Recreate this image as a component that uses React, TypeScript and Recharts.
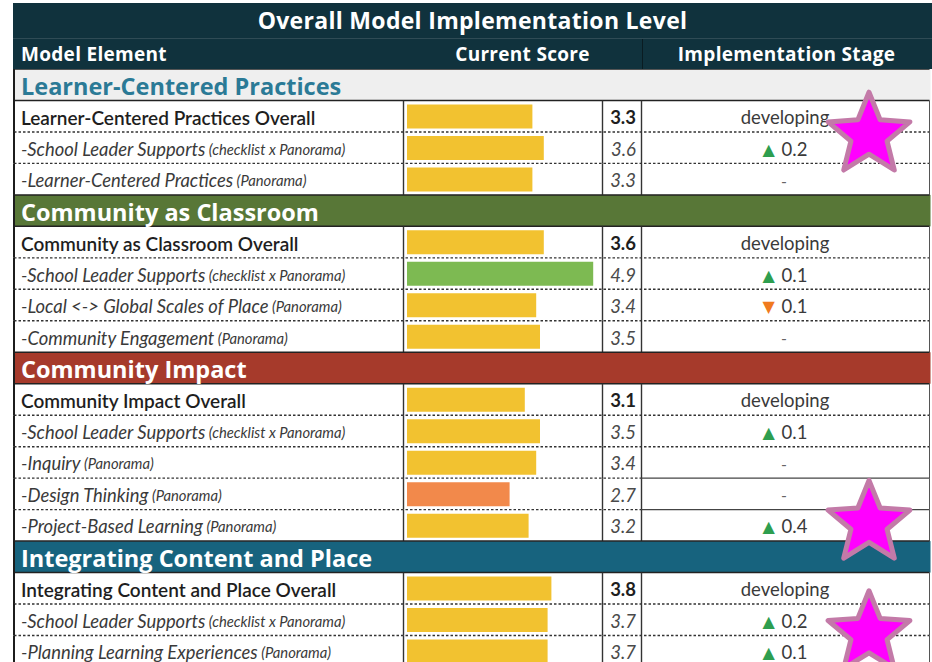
import React from 'react';
import { BarChart, Bar, Cell, XAxis, YAxis } from 'recharts';

// ---- data ----
const sectionNames = [
  'Learner-Centered Practices',
  'Community as Classroom',
  'Community Impact',
  'Integrating Content and Place',
];

const elementNames = [
  'Learner-Centered Practices Overall',
  '-School Leader Supports',
  '-Learner-Centered Practices',
  'Community as Classroom Overall',
  '-School Leader Supports',
  '-Local <-> Global Scales of Place',
  '-Community Engagement',
  'Community Impact Overall',
  '-School Leader Supports',
  '-Inquiry',
  '-Design Thinking',
  '-Project-Based Learning',
  'Integrating Content and Place Overall',
  '-School Leader Supports',
  '-Planning Learning Experiences',
];

const elementSources = [
  '', 'checklist x Panorama', 'Panorama',
  '', 'checklist x Panorama', 'Panorama', 'Panorama',
  '', 'checklist x Panorama', 'Panorama', 'Panorama', 'Panorama',
  '', 'checklist x Panorama', 'Panorama',
];

const elementSection = [0, 0, 0, 1, 1, 1, 1, 2, 2, 2, 2, 2, 3, 3, 3];

const currentScores = [3.3, 3.6, 3.3, 3.6, 4.9, 3.4, 3.5, 3.1, 3.5, 3.4, 2.7, 3.2, 3.8, 3.7, 3.7];

const implementationStages: (string | null)[] = [
  'developing', null, null,
  'developing', null, null, null,
  'developing', null, null, null, null,
  'developing', null, null,
];

const scoreChanges: (number | null)[] = [
  null, 0.2, null,
  null, 0.1, -0.1, null,
  null, 0.1, null, null, 0.4,
  null, 0.2, 0.1,
];

// rows whose top border in the stage column is a solid rule
const solidStageTop = [
  'Community Impact|-Design Thinking',
  'Community Impact|-Project-Based Learning',
];

// highlighted rows (magenta stars), as table row index
const starredRows = [1, 14, 17];

// ---- styling ----
const SECTION_STYLE = [
  { bg: '#efefef', fg: '#2b7a96' },
  { bg: '#587737', fg: '#ffffff' },
  { bg: '#a63a2b', fg: '#ffffff' },
  { bg: '#17637e', fg: '#ffffff' },
];
const HEADER_BG = '#10323d';
const BAR_YELLOW = '#f2c230';
const BAR_GREEN = '#7dba52';
const BAR_ORANGE = '#f2894b';
const STAR_OFFSETS: Record<number, number> = { 1: 19, 14: -2, 17: 14 };

const W = 932;
const H = 662;
const TABLE_TOP = 69;
const CHART_H = 598;
const COL = {
  left: 14,
  label: 21,
  bar: 403.5,
  score: 602.5,
  stage: 641.5,
  right: 929.5,
  scoreText: 636,
  stageMid: 786,
  starX: 869,
};
const HEAD_FONT = '"Open Sans", "DejaVu Sans", sans-serif';
const BODY_FONT = 'Lato, "Noto Sans", sans-serif';

interface TableRow {
  id: string;
  kind: 'section' | 'element';
  section: number;
  name: string;
  source: string;
  score: number | null;
  stage: string | null;
  change: number | null;
}

const tableRows: TableRow[] = [];
sectionNames.forEach((s, si) => {
  tableRows.push({ id: `s${si}`, kind: 'section', section: si, name: s, source: '', score: null, stage: null, change: null });
  elementNames.forEach((n, i) => {
    if (elementSection[i] !== si) return;
    tableRows.push({
      id: `e${i}`,
      kind: 'element',
      section: si,
      name: n,
      source: elementSources[i],
      score: currentScores[i],
      stage: implementationStages[i],
      change: scoreChanges[i],
    });
  });
});

const BAND = CHART_H / tableRows.length;

const barColor = (v: number) => (v >= 4.5 ? BAR_GREEN : v < 3 ? BAR_ORANGE : BAR_YELLOW);

const starPoints = (cx: number, cy: number, R: number, r: number) => {
  const pts: string[] = [];
  for (let k = 0; k < 10; k++) {
    const a = -Math.PI / 2 + (k * Math.PI) / 5;
    const rad = k % 2 === 0 ? R : r;
    pts.push(`${cx + rad * Math.cos(a)},${cy + rad * Math.sin(a)}`);
  }
  return pts.join(' ');
};

const RowTick = (props: any) => {
  const { y, payload } = props;
  const idx = tableRows.findIndex((r) => r.id === payload.value);
  const row = tableRows[idx];
  if (!row) return null;
  const top = y - BAND / 2;
  const bottom = y + BAND / 2;
  const isLast = idx === tableRows.length - 1;

  // stars are drawn with the last row so they sit on top of every rule
  const stars = isLast
    ? starredRows.map((ri) => (
        <polygon
          key={`star-${ri}`}
          points={starPoints(COL.starX, y + (ri - idx) * BAND + STAR_OFFSETS[ri], 43, 19)}
          fill="#ff00ff"
          stroke="#c37aa8"
          strokeWidth={5}
          strokeLinejoin="round"
        />
      ))
    : null;

  if (row.kind === 'section') {
    const st = SECTION_STYLE[row.section];
    return (
      <g>
        <rect x={COL.left - 1} y={top} width={COL.right - COL.left + 2} height={BAND} fill={st.bg} />
        <line x1={COL.left - 1} x2={COL.right} y1={top} y2={top} stroke="#222" strokeWidth={1.5} />
        <line x1={COL.left - 1} x2={COL.right} y1={bottom} y2={bottom} stroke="#222" strokeWidth={1.5} />
        <line x1={COL.left} x2={COL.left} y1={top} y2={bottom} stroke="#1c1c1c" strokeWidth={2} />
        <text
          x={COL.label}
          y={y + 1}
          dominantBaseline="central"
          fontFamily={HEAD_FONT}
          fontWeight={700}
          fontSize={23.5}
          fill={st.fg}
        >
          {row.name}
        </text>
        {stars}
      </g>
    );
  }

  const overall = row.stage != null;
  const next = tableRows[idx + 1];
  const nextIsElement = next && next.kind === 'element';
  const nextSolidStage = next && solidStageTop.includes(`${sectionNames[next.section]}|${next.name}`);

  let stageNode: React.ReactNode;
  if (row.stage) {
    stageNode = (
      <text x={COL.stageMid - 1} y={y + 1} textAnchor="middle" dominantBaseline="central" fontFamily={BODY_FONT} fontSize={18.5} fill="#3a3a3a">
        {row.stage}
      </text>
    );
  } else if (row.change != null) {
    const up = row.change > 0;
    stageNode = (
      <text x={COL.stageMid - 1} y={y + 1} textAnchor="middle" dominantBaseline="central" fontFamily={BODY_FONT} fontSize={18.5} fill="#3a3a3a">
        <tspan fontFamily='"DejaVu Sans", sans-serif' fontSize={16} fill={up ? '#2e9e4f' : '#f07a1e'}>
          {up ? '▲' : '▼'}
        </tspan>
        <tspan dx={2}> {Math.abs(row.change).toFixed(1)}</tspan>
      </text>
    );
  } else {
    stageNode = (
      <text x={COL.stageMid - 2} y={y + 1} textAnchor="middle" dominantBaseline="central" fontFamily={BODY_FONT} fontSize={16} fill="#666">
        -
      </text>
    );
  }

  return (
    <g>
      {/* column rules */}
      <line x1={COL.left} x2={COL.left} y1={top} y2={bottom} stroke="#1c1c1c" strokeWidth={2} />
      <line x1={COL.bar} x2={COL.bar} y1={top} y2={bottom} stroke="#333" strokeWidth={1.4} />
      <line x1={COL.score} x2={COL.score} y1={top} y2={bottom} stroke="#333" strokeWidth={1.4} />
      <line x1={COL.stage} x2={COL.stage} y1={top} y2={bottom} stroke="#333" strokeWidth={1.4} />
      <line x1={COL.right} x2={COL.right} y1={top} y2={bottom} stroke="#555" strokeWidth={1} />

      {/* row separator */}
      {nextIsElement && (
        <>
          <line
            x1={COL.left}
            x2={nextSolidStage ? COL.stage : COL.right}
            y1={bottom}
            y2={bottom}
            stroke="#333"
            strokeWidth={1.4}
            strokeDasharray="2.5 2"
          />
          {nextSolidStage && (
            <line x1={COL.stage} x2={COL.right} y1={bottom} y2={bottom} stroke="#444" strokeWidth={1.2} />
          )}
        </>
      )}

      {/* model element */}
      {overall ? (
        <text x={COL.label} y={y + 1} dominantBaseline="central" fontFamily={BODY_FONT} fontWeight={600} fontSize={19} fill="#1e1e1e">
          {row.name}
        </text>
      ) : (
        <text x={COL.label} y={y + 1} dominantBaseline="central" fontFamily={BODY_FONT} fontStyle="italic" fontSize={18.4} fill="#3a3a3a">
          {row.name}
          {row.source && <tspan fontSize={14.8}> ({row.source})</tspan>}
        </text>
      )}

      {/* current score */}
      <text
        x={COL.scoreText}
        y={y + 1}
        textAnchor="end"
        dominantBaseline="central"
        fontFamily={BODY_FONT}
        fontSize={18.5}
        fontWeight={overall ? 700 : 400}
        fontStyle={overall ? 'normal' : 'italic'}
        fill={overall ? '#1e1e1e' : '#4a4a4a'}
      >
        {row.score != null ? row.score.toFixed(1) : ''}
      </text>

      {stageNode}
      {stars}
    </g>
  );
};

export default function App() {
  return (
    <div
      style={{
        position: 'absolute',
        left: 0,
        top: 0,
        width: W,
        height: H,
        overflow: 'hidden',
        background: '#fff',
      }}
    >
      {/* title */}
      <div
        style={{
          position: 'absolute',
          left: COL.left - 1,
          top: 3,
          width: W - COL.left + 1,
          height: 35,
          background: HEADER_BG,
          color: '#fff',
          fontFamily: HEAD_FONT,
          fontWeight: 700,
          fontSize: 23,
          letterSpacing: 0.3,
          lineHeight: '35px',
          textAlign: 'center',
        }}
      >
        Overall Model Implementation Level
      </div>
      {/* column headers */}
      <div
        style={{
          position: 'absolute',
          left: COL.left - 1,
          top: 38,
          width: W - COL.left + 1,
          height: TABLE_TOP - 38,
          background: HEADER_BG,
          borderTop: '1px solid #2f4b55',
          boxSizing: 'border-box',
          color: '#fff',
          fontFamily: HEAD_FONT,
          fontWeight: 700,
          fontSize: 19,
          letterSpacing: 0.3,
          lineHeight: '30px',
        }}
      >
        <span style={{ position: 'absolute', left: COL.label - COL.left + 1 }}>Model Element</span>
        <span
          style={{
            position: 'absolute',
            left: COL.bar - COL.left + 1,
            width: COL.stage - COL.bar,
            textAlign: 'center',
          }}
        >
          Current Score
        </span>
        <span
          style={{
            position: 'absolute',
            left: COL.stage - COL.left + 1,
            width: COL.right - COL.stage,
            textAlign: 'center',
            borderLeft: '1.5px solid #0a1c22',
            height: 30,
          }}
        >
          Implementation Stage
        </span>
      </div>

      <div style={{ position: 'absolute', left: 0, top: TABLE_TOP }}>
        <BarChart
          width={W}
          height={CHART_H}
          data={tableRows}
          layout="vertical"
          margin={{ top: 0, right: W - 597, bottom: 0, left: 407 - 60 }}
          barSize={24}
        >
          <XAxis type="number" domain={[0, 5]} hide />
          <YAxis
            type="category"
            dataKey="id"
            width={60}
            interval={0}
            axisLine={false}
            tickLine={false}
            tick={(p: any) => <RowTick {...p} />}
          />
          <Bar dataKey="score" isAnimationActive={false}>
            {tableRows.map((r) => (
              <Cell key={r.id} fill={r.score != null ? barColor(r.score) : 'none'} />
            ))}
          </Bar>
        </BarChart>
      </div>
    </div>
  );
}
